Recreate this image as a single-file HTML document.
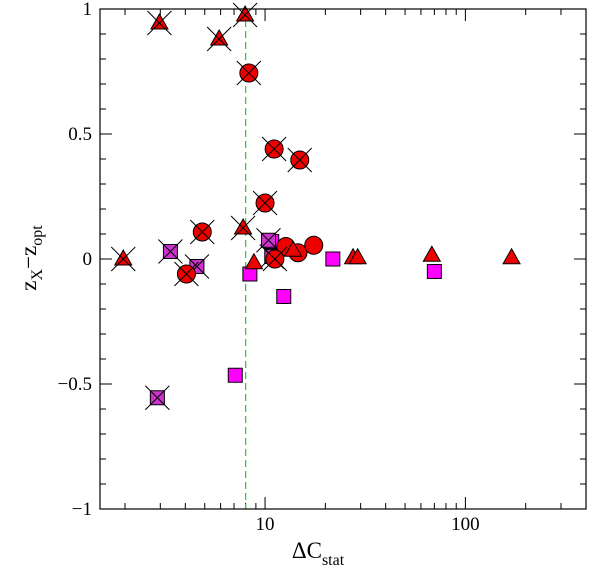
<!DOCTYPE html>
<html><head><meta charset="utf-8"><style>body{margin:0;background:#fff}svg text{font-family:"Liberation Serif",serif}</style></head>
<body>
<svg id="chart" width="600" height="574" xmlns="http://www.w3.org/2000/svg">
<g id="ticks"></g><g id="marks"></g>
<rect x="100" y="9" width="486" height="500" fill="none" stroke="#000" stroke-width="1.2"/>
<text x="318" y="558" font-size="23" text-anchor="middle">ΔC<tspan font-size="16" dy="7">stat</tspan></text>
<g transform="translate(36,258) rotate(-90)"><text x="0" y="0" font-size="23" text-anchor="middle">z<tspan font-size="16" dy="6">X</tspan><tspan dy="-6">−z</tspan><tspan font-size="16" dy="6">opt</tspan></text></g>
</svg>
<script>
const circX=[8.3,11.1,14.9,10,4.86,11.2,4.05];
const circXy=[0.744,0.44,0.396,0.224,0.108,0.0,-0.06];
const circ=[12.7,14.6,17.5];
const circy=[0.05,0.025,0.055];
const triX=[2.97,5.9,7.95,7.77,1.96];
const triXy=[0.944,0.88,0.976,0.124,0.0];
const tri=[8.8,13.8,27.5,29,68,170];
const triy=[-0.015,0.035,0.005,0.005,0.015,0.005];
const sqX=[10.4,10.8,3.37,4.57,2.9];
const sqXy=[0.075,0.01,0.03,-0.03,-0.555];
const sq=[10.8,8.4,12.4,21.8,70,7.1];
const sqy=[0.07,-0.06,-0.15,0,-0.05,-0.465];
const threshold=8;
const yTicks=[-1,-0.5,0,0.5,1];
const yTickLabels=["−1","−0.5","0","0.5","1"];
const xTicks=[10,100];
const xTickLabels=["10","100"];

const X0=100,X1=586,Y0=9,Y1=509,LMIN=Math.log10(1.5),LMAX=Math.log10(400);
const xs=v=>X0+(Math.log10(v)-LMIN)/(LMAX-LMIN)*(X1-X0);
const ys=v=>Y1-(v+1)/2*(Y1-Y0);
const NS="http://www.w3.org/2000/svg";
const tk=document.getElementById('ticks'),mk=document.getElementById('marks');
function el(t,a,p){const e=document.createElementNS(NS,t);for(const k in a)e.setAttribute(k,a[k]);p.appendChild(e);return e;}
for(let i=-10;i<=10;i++){const v=i/10,y=ys(v),L=(i%5===0)?12:6;
 const a=el('path',{d:`M${X0} ${y}h${L}M${X1} ${y}h${-L}`,stroke:'#000','stroke-width':1},tk);
 
 }
yTicks.forEach((v,i)=>{const t=el('text',{x:X0-8,y:ys(v)+6,'font-size':19,'text-anchor':'end'},tk);t.textContent=yTickLabels[i];
 
 });
for(let d=1;d<=100;d*=10)for(let m=1;m<=9;m++){const v=m*d;if(v<1.5||v>400)continue;const x=xs(v),L=(m===1)?12:6;
 const a=el('path',{d:`M${x} ${Y1}v${-L}M${x} ${Y0}v${L}`,stroke:'#000','stroke-width':1},tk);
 
 }
xTicks.forEach((v,i)=>{const t=el('text',{x:xs(v),y:Y1+21,'font-size':19,'text-anchor':'middle'},tk);t.textContent=xTickLabels[i];
 
 });
const th=el('line',{x1:xs(threshold),x2:xs(threshold),y1:Y0,y2:Y1,stroke:'#33cc33','stroke-width':1.3,'stroke-dasharray':'7,4'},mk);


function cross(x,y){el('path',{d:`M${x-12} ${y-12}L${x+12} ${y+12}M${x+12} ${y-12}L${x-12} ${y+12}`,stroke:'#000','stroke-width':1},mk);}
function circle(v,w,c,name){const x=xs(v),y=ys(w);const e=el('circle',{cx:x,cy:y,r:9,fill:'#ee0000',stroke:'#000','stroke-width':1},mk);
 
 
 if(c)cross(x,y);}
function triangle(v,w,c,name){const x=xs(v),y=ys(w);const e=el('path',{d:`M${x} ${y-9}L${x+8.5} ${y+6}L${x-8.5} ${y+6}Z`,fill:'#ee0000',stroke:'#000','stroke-width':1},mk);
 
 
 if(c)cross(x,y);}
function square(v,w,c,name){const x=xs(v),y=ys(w);const e=el('rect',{x:x-7,y:y-7,width:14,height:14,fill:c?'#cc33cc':'#ff00ff',stroke:'#000','stroke-width':1},mk);
 
 
 if(c)cross(x,y);}
sq.forEach((v,i)=>square(v,sqy[i],false,'square-point'));
sqX.forEach((v,i)=>square(v,sqXy[i],true,'square-crossed-point'));
circ.forEach((v,i)=>circle(v,circy[i],false,'circle-point'));
circX.forEach((v,i)=>circle(v,circXy[i],true,'circle-crossed-point'));
tri.forEach((v,i)=>triangle(v,triy[i],false,'triangle-point'));
triX.forEach((v,i)=>triangle(v,triXy[i],true,'triangle-crossed-point'));
</script>
</body></html>
